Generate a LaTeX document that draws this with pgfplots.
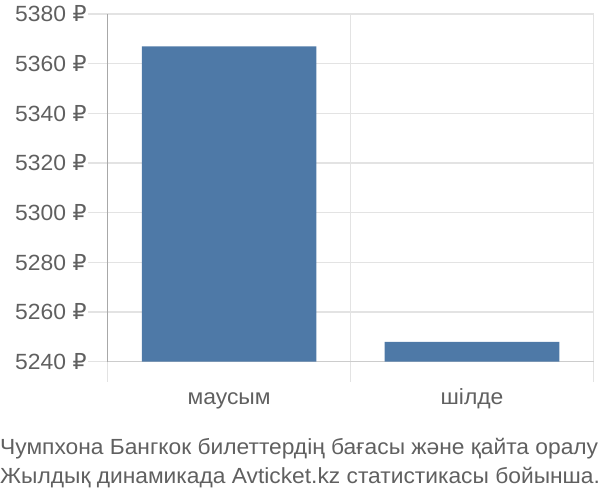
\documentclass[border=0pt]{standalone}
\usepackage{fontspec}
\setmainfont{Liberation Sans}[FakeStretch=1.04]
\newfontfamily\dejavu{DejaVu Sans}
\usepackage{pgfplots}
\pgfplotsset{compat=1.18}
\definecolor{barblue}{HTML}{4E79A7}
\definecolor{txt}{HTML}{606060}
\definecolor{gridc}{HTML}{E3E3E3}
\definecolor{axc}{HTML}{A8A8A8}
\definecolor{basec}{HTML}{CCCCCC}
\newcommand{\tfont}{\fontsize{22bp}{26bp}\selectfont}
\newcommand{\rub}{{\dejavu ₽}}
\begin{document}
\begin{tikzpicture}
\begin{axis}[
  at={(107.7bp,138.3bp)}, anchor=south west,
  scale only axis, width=485.8bp, height=347.7bp,
  xmin=-0.5, xmax=1.5, ymin=5240, ymax=5380,
  enlargelimits=false, clip=true,
  axis x line=bottom, axis y line=left,
  x axis line style={-, draw=basec, line width=1.2bp},
  y axis line style={-, draw=axc, line width=1.2bp},
  xtick={0,1}, xticklabels={маусым,шілде},
  xtick style={draw=none},
  minor xtick={-0.5,0.5,1.5},
  minor tick length=20bp,
  minor x tick style={draw=gridc, line width=1.2bp},
  xminorgrids=true,
  minor x grid style={draw=gridc, line width=1.2bp},
  ytick={5240,5260,5280,5300,5320,5340,5360,5380},
  yticklabels={5240 \rub,5260 \rub,5280 \rub,5300 \rub,5320 \rub,5340 \rub,5360 \rub,5380 \rub},
  major tick length=20bp,
  tick align=outside,
  ytick style={draw=gridc, line width=1.2bp},
  ymajorgrids=true,
  major grid style={draw=gridc, line width=1.2bp},
  yticklabel style={font=\tfont, text=txt, anchor=east, inner sep=0pt, xshift=-1bp},
  xticklabel style={font=\tfont, text=txt, anchor=base, inner sep=0pt, yshift=-23bp},
  extra x ticks={-0.5},
  extra x tick labels={},
  extra x tick style={grid=none, tick style={draw=axc, line width=1.2bp}, major tick length=20bp},
]
\addplot[ybar, bar width=0.719, fill=barblue, draw=none] coordinates {(0,5367) (1,5248)};
\end{axis}
\node[anchor=base west, inner sep=0pt, font=\fontsize{21.9bp}{26bp}\selectfont, text=txt] at (0bp,45.7bp) {Чумпхона Бангкок билеттердің бағасы және қайта оралу};
\node[anchor=base west, inner sep=0pt, font=\fontsize{21.9bp}{26bp}\selectfont, text=txt] at (0bp,16.7bp) {Жылдық динамикада Avticket.kz статистикасы бойынша.};
\pgfresetboundingbox
\path (0bp,0bp) rectangle (600bp,500bp);
\end{tikzpicture}
\end{document}
